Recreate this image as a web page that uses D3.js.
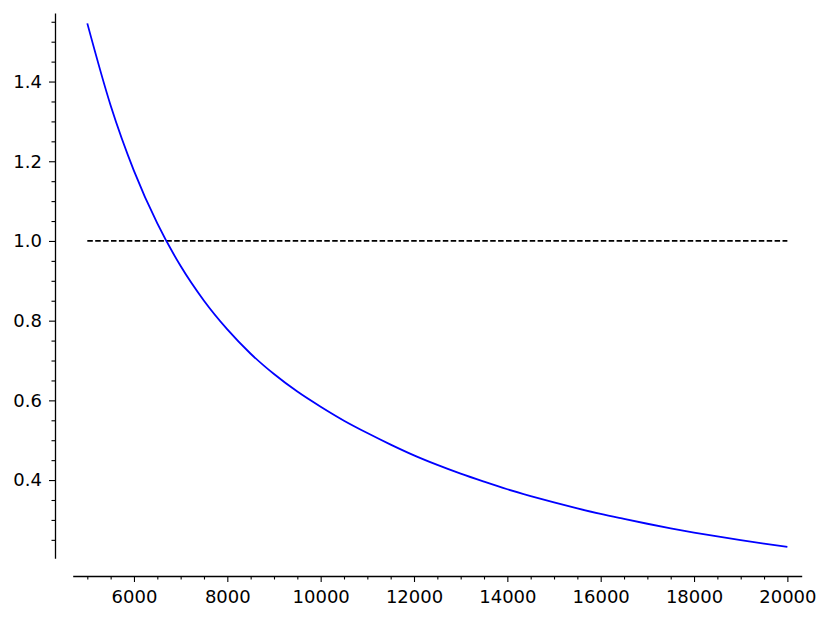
<!DOCTYPE html>
<html>
<head>
<meta charset="utf-8">
<script src="https://cdn.jsdelivr.net/npm/d3@7"></script>
<style>
  html, body { margin: 0; padding: 0; background: #ffffff; }
  svg { display: block; }
  text { font-family: "DejaVu Sans", sans-serif; }
</style>
</head>
<body>
<svg id="chart" width="830" height="620"></svg>
<script>
// Data
const xValues = [5000, 5500, 6000, 6500, 7000, 7500, 8000, 8500, 9000, 9500,
                 10000, 10500, 11000, 11500, 12000, 12500, 13000, 13500, 14000, 14500,
                 15000, 15500, 16000, 16500, 17000, 17500, 18000, 18500, 19000, 19500, 20000];
const yValues = [1.546, 1.340, 1.176, 1.044, 0.937, 0.850, 0.778, 0.717, 0.666, 0.622,
                 0.584, 0.549, 0.518, 0.489, 0.462, 0.438, 0.416, 0.396, 0.377, 0.360,
                 0.344, 0.329, 0.315, 0.3025, 0.2904, 0.279, 0.2684, 0.2585, 0.2492, 0.2405, 0.2323];
const refLineY = 1.0;
const refLineX = [5000, 20000];
const xMajorTicks = [6000, 8000, 10000, 12000, 14000, 16000, 18000, 20000];
const yMajorTicks = [0.4, 0.6, 0.8, 1.0, 1.2, 1.4];
const xMinorStep = 500;
const yMinorStep = 0.05;

const svg = d3.select("#chart");

const x = d3.scaleLinear().domain([4687, 20307]).range([72.7, 801.7]);
const y = d3.scaleLinear().domain([0.2037, 1.572]).range([558.3, 13]);

const xMinor = d3.range(5000, 20000, xMinorStep).filter(v => v % 2000 !== 0);
const yMinor = d3.range(5, 32).map(i => +(i * yMinorStep).toFixed(2))
  .filter(v => v >= 0.25 && v <= 1.55 && !yMajorTicks.some(m => Math.abs(m - v) < 1e-6));

// X axis
const gx = svg.append("g").attr("transform", "translate(0,576)");
gx.call(d3.axisBottom(x).tickValues(xMajorTicks).tickSize(6).tickSizeOuter(0).tickPadding(8)
  .tickFormat(d3.format("d")));
gx.append("g").call(d3.axisBottom(x).tickValues(xMinor).tickSize(3.5).tickFormat(""))
  .select(".domain").remove();

// Y axis
const gy = svg.append("g").attr("transform", "translate(55,0)");
gy.call(d3.axisLeft(y).tickValues(yMajorTicks).tickSize(6).tickSizeOuter(0).tickPadding(7)
  .tickFormat(d3.format(".1f")));
gy.append("g").call(d3.axisLeft(y).tickValues(yMinor).tickSize(3.5).tickFormat(""))
  .select(".domain").remove();

svg.selectAll(".domain").attr("stroke", "#000").attr("stroke-width", 1.3);
svg.selectAll(".tick line").attr("stroke", "#000").attr("stroke-width", 1.1);
svg.selectAll(".tick text").attr("fill", "#000").style("font-size", "18px")
  .style("font-family", "'DejaVu Sans', sans-serif");

// Reference dashed line
svg.append("line")
  .attr("x1", x(refLineX[0])).attr("x2", x(refLineX[1]))
  .attr("y1", y(refLineY)).attr("y2", y(refLineY))
  .attr("stroke", "#000").attr("stroke-width", 1.7)
  .attr("stroke-dasharray", "5.5,2.4");

// Curve
const pts = xValues.map((v, i) => [v, yValues[i]]);
svg.append("path")
  .datum(pts)
  .attr("fill", "none")
  .attr("stroke", "#0000ff")
  .attr("stroke-width", 1.8)
  .attr("d", d3.line().x(d => x(d[0])).y(d => y(d[1])).curve(d3.curveMonotoneX));
</script>
</body>
</html>
